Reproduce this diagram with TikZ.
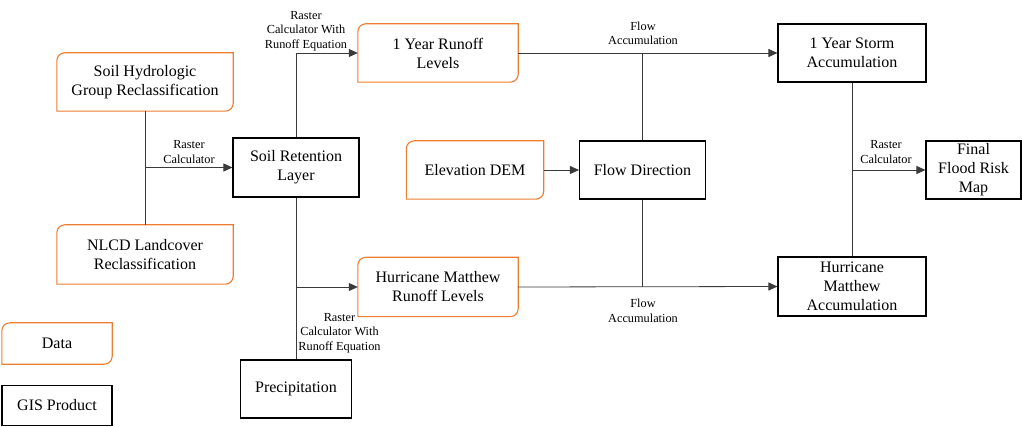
\documentclass[tikz,border=0pt]{standalone}
\usepackage{fontspec}
\setmainfont{Liberation Serif}
\usetikzlibrary{arrows.meta,calc}
\definecolor{dorange}{HTML}{ED7D31}
\definecolor{lgray}{HTML}{3A3A3A}
\newcommand\datashape[1]{\draw[dorange,line width=1.1pt] ([yshift=-8pt]#1.north west) arc[start angle=180,end angle=90,radius=8pt] -- (#1.north east) -- ([yshift=8pt]#1.south east) arc[start angle=0,end angle=-90,radius=8pt] -- (#1.south west) -- cycle;}
\begin{document}
\begin{tikzpicture}[x=1pt,y=-1pt,
 txt/.style={inner sep=0pt,align=center,font=\fontsize{16}{19}\selectfont},
 prod/.style={txt,draw=black,line width=1.1pt},
 data/.style={txt},
 lab/.style={font=\fontsize{12.3}{14.5}\selectfont,align=center,inner sep=0pt},
 conn/.style={draw=lgray,line width=0.8pt},
 arr/.style={conn,-{Triangle[length=9pt,width=8pt]}}]
\useasboundingbox (0,0) rectangle (1022,427);

% data nodes
\node[data,minimum width=176pt,minimum height=58pt] (soil) at (145,82) {Soil Hydrologic\\Group Reclassification};
\node[data,minimum width=176pt,minimum height=59pt] (nlcd) at (145,254.5) {NLCD Landcover\\Reclassification};
\node[data,minimum width=110pt,minimum height=41pt] (legdata) at (57,343.5) {Data};
\node[data,minimum width=160pt,minimum height=58pt] (run1) at (438,53) {1 Year Runoff\\Levels};
\node[data,minimum width=160pt,minimum height=59pt] (hrun) at (438,287) {Hurricane Matthew\\Runoff Levels};
\node[data,minimum width=137pt,minimum height=58pt] (dem) at (475,170) {Elevation DEM};
\datashape{soil}
\datashape{nlcd}
\datashape{legdata}
\datashape{run1}
\datashape{hrun}
\datashape{dem}

% product nodes
\node[prod,minimum width=110pt,minimum height=40pt] (leggis) at (57,405.5) {GIS Product};
\node[prod,minimum width=126pt,minimum height=59pt] (ret) at (296,167.5) {Soil Retention\\Layer};
\node[prod,minimum width=111pt,minimum height=58pt] (prec) at (296,389) {Precipitation};
\node[prod,minimum width=126pt,minimum height=58pt] (fdir) at (642.5,170) {Flow Direction};
\node[prod,minimum width=148pt,minimum height=58pt] (storm) at (852,53) {1 Year Storm\\Accumulation};
\node[prod,minimum width=148pt,minimum height=59pt] (hacc) at (852,286.5) {Hurricane\\Matthew\\Accumulation};
\node[prod,minimum width=95pt,minimum height=58pt] (final) at (973.5,170) {Final\\Flood Risk\\Map};

% connectors
\draw[conn] (soil.south) -- (nlcd.north);
\draw[arr] (soil.south |- ret.west) -- (ret.west);
\draw[arr] (ret.north) |- (run1.west);
\draw[conn] (ret.south) -- (prec.north);
\draw[arr] (ret.south |- hrun.west) -- (hrun.west);
\draw[arr] (run1.east) -- (storm.west);
\draw[conn] (fdir.north) -- (fdir.north |- run1.east);
\draw[arr] (dem.east) -- (fdir.west);
\draw[arr] (hrun.east) -- (hacc.west);
\draw[conn] (fdir.south) -- (fdir.south |- hrun.east);
\draw[conn] (storm.south) -- (hacc.north);
\draw[arr] (storm.south |- final.west) -- (final.west);

% labels
\node[lab] (l1) at (189,152) {Raster\\Calculator};
\node[lab] (l2) at (306,31) {Raster\\Calculator With\\Runoff Equation};
\node[lab] (l3) at (339.5,333) {Raster\\Calculator With\\Runoff Equation};
\node[lab] (l4) at (643,33.5) {Flow\\Accumulation};
\node[lab] (l5) at (643,311) {Flow\\Accumulation};
\node[lab] (l6) at (886,152) {Raster\\Calculator};
\end{tikzpicture}
\end{document}
